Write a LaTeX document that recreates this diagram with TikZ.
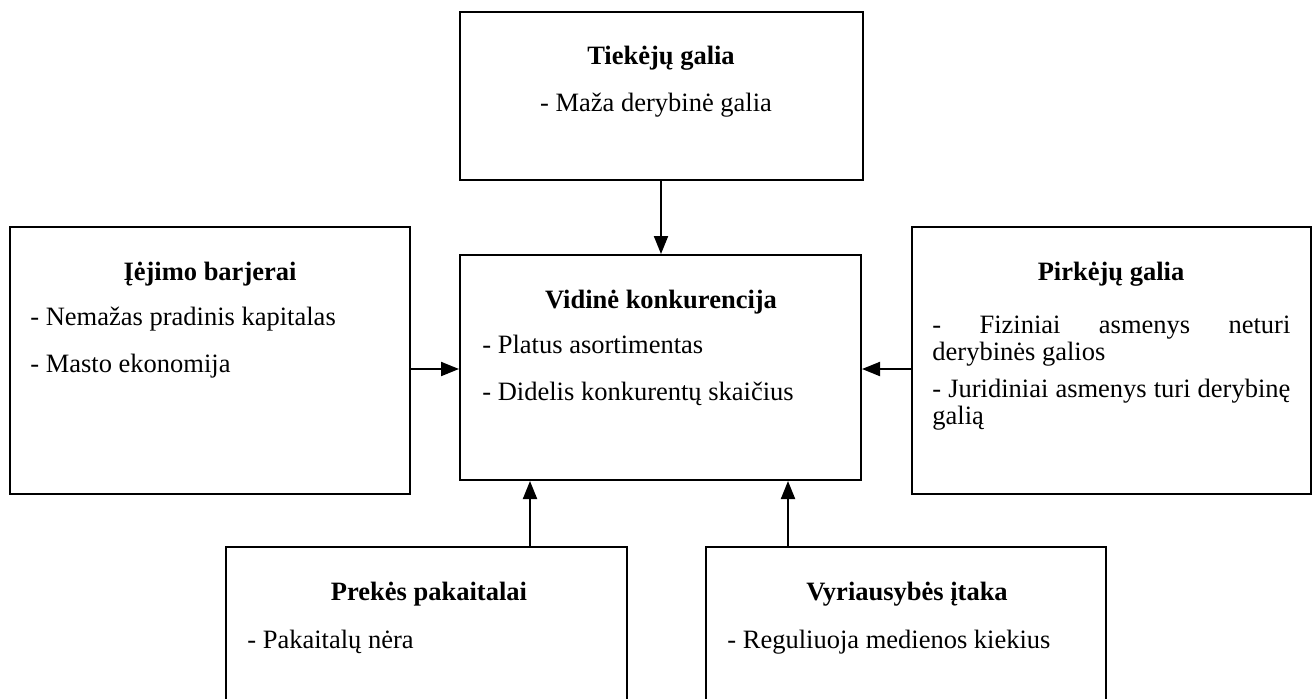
\documentclass[tikz,border=0pt]{standalone}
\usepackage{fontspec}
\setmainfont{Liberation Serif}
\usetikzlibrary{fit,arrows.meta}
\begin{document}
\begin{tikzpicture}[x=0.5pt,y=-0.5pt,
  box/.style={draw=black,line width=1pt,inner sep=0pt,rectangle},
  arr/.style={draw=black,line width=1pt,-{Triangle[length=9pt,width=7pt]}},
  ttl/.style={anchor=base,font=\fontsize{13.25}{12}\selectfont\bfseries,inner sep=0pt},
  itm/.style={anchor=base west,font=\fontsize{13.25}{12}\selectfont,inner sep=0pt},
  par2/.style={anchor=base west,align=left,font=\fontsize{13.25}{11.75}\selectfont,inner sep=0pt}]
\clip (0,0) rectangle (1316,698);
\fill[white] (0,0) rectangle (1316,698);
% boxes
\node[box,fit={(460,12) (863,180)}] (sup) {};
\node[box,fit={(460,255) (861,480)}] (mid) {};
\node[box,fit={(10,227) (410,494)}] (ent) {};
\node[box,fit={(912,227) (1311,494)}] (buy) {};
\node[box,fit={(226,547) (627,760)}] (sub) {};
\node[box,fit={(706,547) (1106,760)}] (gov) {};
% helper coordinates
\coordinate (ya) at (0,369);
\coordinate (xa) at (530,0);
\coordinate (xb) at (788,0);
\coordinate (xc) at (661,0);
% connectors
\draw[arr] (sup.south -| xc) -- (mid.north -| xc);
\draw[arr] (ent.east |- ya) -- (mid.west |- ya);
\draw[arr] (buy.west |- ya) -- (mid.east |- ya);
\draw[arr] (sub.north -| xa) -- (mid.south -| xa);
\draw[arr] (gov.north -| xb) -- (mid.south -| xb);
% texts
\node[ttl] (supt) at (661,64) {Tiekėjų galia};
\node[anchor=base,font=\fontsize{13.25}{12}\selectfont,inner sep=0pt] (sup1) at (656,111) {- Maža derybinė galia};
\node[ttl] (entt) at (210,280) {Įėjimo barjerai};
\node[itm] (ent1) at (30,325) {- Nemažas pradinis kapitalas};
\node[itm] (ent2) at (30,372) {- Masto ekonomija};
\node[ttl] (midt) at (661,308) {Vidinė konkurencija};
\node[itm] (mid1) at (482,353) {- Platus asortimentas};
\node[itm] (mid2) at (482,400) {- Didelis konkurentų skaičius};
\node[ttl] (buyt) at (1111,280) {Pirkėjų galia};
\node[par2] (buy1) at (932,360) {\makebox[179pt][s]{- Fiziniai asmenys neturi}\\derybinės galios};
\node[par2] (buy2) at (932,424) {\makebox[179pt][s]{- Juridiniai asmenys turi derybinę}\\galią};
\node[ttl] (subt) at (429,600) {Prekės pakaitalai};
\node[itm] (sub1) at (247,648) {- Pakaitalų nėra};
\node[ttl] (govt) at (907,600) {Vyriausybės įtaka};
\node[itm] (gov1) at (727,648) {- Reguliuoja medienos kiekius};
\end{tikzpicture}
\end{document}
